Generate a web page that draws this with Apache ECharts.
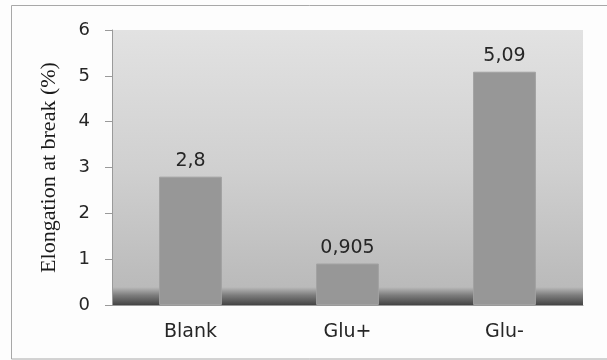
<!DOCTYPE html>
<html>
<head>
<meta charset="utf-8">
<script src="https://cdn.jsdelivr.net/npm/echarts@6/dist/echarts.min.js"></script>
<style>
  html, body { margin: 0; padding: 0; background: #fdfdfd; }
  #chart { width: 607px; height: 360px; }
</style>
</head>
<body>
<div id="chart"></div>
<script>
// Elongation at break for each sample
var categories = ['Blank', 'Glu+', 'Glu-'];
var elongation = [2.8, 0.905, 5.09];
var valueLabels = ['2,8', '0,905', '5,09'];
var yTicks = [0, 1, 2, 3, 4, 5, 6];

var chart = echarts.init(document.getElementById('chart'), null, { renderer: 'canvas' });

chart.setOption({
  backgroundColor: '#fdfdfd',
  animation: false,
  graphic: [{
    type: 'rect',
    shape: { x: 11.5, y: 5.5, width: 620, height: 353.5 },
    style: { fill: 'none', stroke: '#a8a8a8', lineWidth: 1 },
    z: -10
  }],
  grid: {
    left: 112, top: 30, right: 24, bottom: 55,
    show: true,
    borderWidth: 0,
    backgroundColor: new echarts.graphic.LinearGradient(0, 0, 0, 1, [
      { offset: 0, color: '#e2e2e2' },
      { offset: 0.5, color: '#d0d0d0' },
      { offset: 0.935, color: '#bababa' },
      { offset: 0.965, color: '#7c7c7c' },
      { offset: 1, color: '#444444' }
    ])
  },
  xAxis: {
    type: 'category',
    data: categories,
    axisLine: { show: true, lineStyle: { color: '#9a9a9a', width: 1 } },
    axisTick: { show: false },
    axisLabel: {
      margin: 18,
      color: '#262626',
      fontFamily: 'DejaVu Sans',
      fontSize: 19
    }
  },
  yAxis: {
    type: 'value',
    min: yTicks[0],
    max: yTicks[yTicks.length - 1],
    interval: 1,
    name: 'Elongation at break (%)',
    nameLocation: 'middle',
    nameGap: 52,
    nameRotate: 90,
    nameTextStyle: {
      fontFamily: 'Liberation Serif',
      fontSize: 22,
      color: '#1a1a1a'
    },
    axisLine: { show: true, lineStyle: { color: '#9a9a9a', width: 1 } },
    axisTick: { show: true, length: 7, lineStyle: { color: '#9a9a9a' } },
    splitLine: { show: false },
    axisLabel: {
      margin: 22,
      color: '#262626',
      fontFamily: 'DejaVu Sans',
      fontSize: 18
    }
  },
  series: [{
    type: 'bar',
    data: elongation,
    barWidth: '40%',
    itemStyle: { color: '#979797', borderColor: '#a2a2a2', borderWidth: 1 },
    label: {
      show: true,
      position: 'top',
      distance: 6,
      color: '#262626',
      fontFamily: 'DejaVu Sans',
      fontSize: 19,
      formatter: function (p) { return valueLabels[p.dataIndex]; }
    }
  }]
});
</script>
</body>
</html>
